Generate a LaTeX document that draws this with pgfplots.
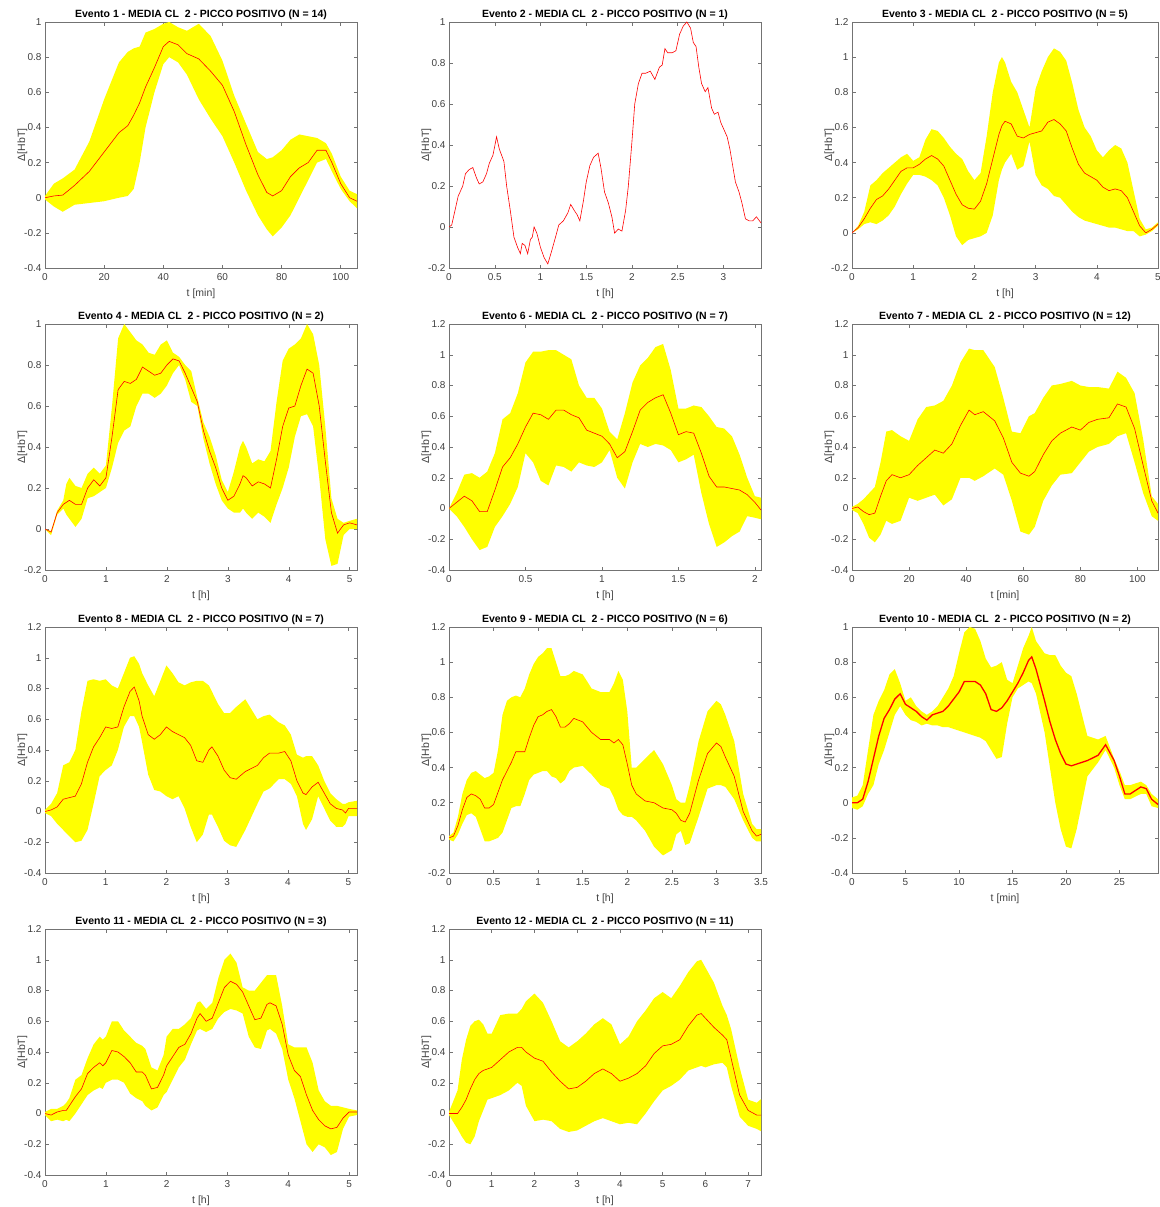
\documentclass[border=0pt]{standalone}
\usepackage{pgfplots}
\pgfplotsset{compat=1.18}
\usepackage{pgfplotstable}
\usepgfplotslibrary{fillbetween}
\usepackage{fontspec}
\setmainfont{Liberation Sans}
\definecolor{bandyellow}{RGB}{255,255,0}
\definecolor{meanred}{RGB}{255,0,0}

\pgfplotstableread[row sep=\\]{
t m lo hi\\
0 0 -0.01 0.01\\
3 0.01 -0.05 0.08\\
6 0.015 -0.08 0.11\\
10 0.07 -0.04 0.16\\
15 0.15 -0.03 0.32\\
20 0.26 -0.02 0.56\\
25 0.37 0.0 0.77\\
28 0.41 0.01 0.83\\
30 0.47 0.05 0.85\\
32 0.54 0.2 0.86\\
34 0.63 0.4 0.94\\
37 0.74 0.6 0.96\\
40 0.86 0.76 0.99\\
42 0.89 0.8 1.0\\
45 0.87 0.77 0.97\\
48 0.82 0.7 0.95\\
52 0.79 0.56 0.99\\
56 0.72 0.45 0.92\\
60 0.64 0.35 0.78\\
64 0.49 0.2 0.58\\
68 0.30 0.04 0.42\\
72 0.13 -0.1 0.26\\
75 0.03 -0.18 0.22\\
77 0.01 -0.22 0.23\\
80 0.04 -0.17 0.27\\
83 0.12 -0.1 0.33\\
86 0.17 0.0 0.36\\
89 0.2 0.1 0.35\\
92 0.27 0.2 0.34\\
95 0.27 0.22 0.31\\
97 0.2 0.15 0.25\\
100 0.08 0.05 0.12\\
103 0.0 -0.02 0.04\\
105.5 -0.02 -0.06 0.02\\
}\tA

\pgfplotstableread[row sep=\\]{
t m lo hi\\
0 0 0 0\\
0.1 0.03 0.02 0.04\\
0.2 0.08 0.05 0.12\\
0.3 0.14 0.06 0.27\\
0.4 0.19 0.05 0.3\\
0.5 0.21 0.07 0.34\\
0.6 0.25 0.1 0.37\\
0.7 0.3 0.15 0.4\\
0.8 0.35 0.22 0.43\\
0.9 0.37 0.28 0.45\\
1.0 0.37 0.33 0.41\\
1.1 0.39 0.33 0.43\\
1.2 0.42 0.32 0.53\\
1.3 0.44 0.3 0.59\\
1.4 0.42 0.27 0.58\\
1.5 0.38 0.2 0.54\\
1.6 0.3 0.1 0.49\\
1.7 0.22 -0.02 0.45\\
1.8 0.16 -0.07 0.42\\
1.9 0.14 -0.04 0.35\\
2.0 0.135 -0.03 0.3\\
2.1 0.18 -0.02 0.34\\
2.2 0.28 0.0 0.55\\
2.3 0.42 0.1 0.8\\
2.4 0.56 0.3 0.97\\
2.45 0.61 0.36 1.0\\
2.5 0.635 0.4 0.97\\
2.6 0.62 0.45 0.86\\
2.7 0.55 0.36 0.8\\
2.8 0.54 0.38 0.7\\
2.9 0.56 0.52 0.6\\
3.0 0.57 0.33 0.82\\
3.1 0.58 0.27 0.92\\
3.2 0.63 0.25 1.0\\
3.3 0.645 0.21 1.05\\
3.4 0.62 0.2 1.03\\
3.5 0.58 0.16 0.98\\
3.6 0.48 0.12 0.85\\
3.7 0.39 0.09 0.7\\
3.8 0.34 0.07 0.6\\
3.9 0.32 0.06 0.55\\
4.0 0.3 0.05 0.47\\
4.1 0.26 0.04 0.43\\
4.2 0.24 0.03 0.47\\
4.3 0.25 0.03 0.5\\
4.4 0.24 0.02 0.48\\
4.5 0.2 0.01 0.4\\
4.6 0.12 0.01 0.24\\
4.7 0.04 -0.02 0.08\\
4.8 0.0 -0.01 0.02\\
4.9 0.02 0.01 0.03\\
5.0 0.05 0.04 0.06\\
}\tC

\pgfplotstableread[row sep=\\]{
t m lo hi\\
0 0 0 0\\
0.1 -0.015 -0.03 -0.01\\
0.2 0.08 0.07 0.09\\
0.3 0.12 0.1 0.14\\
0.35 0.13 0.07 0.22\\
0.4 0.14 0.05 0.25\\
0.5 0.12 0.01 0.21\\
0.6 0.12 0.05 0.2\\
0.7 0.2 0.15 0.27\\
0.8 0.24 0.16 0.3\\
0.9 0.21 0.18 0.27\\
1.0 0.25 0.2 0.31\\
1.1 0.45 0.3 0.6\\
1.2 0.68 0.42 0.93\\
1.3 0.72 0.48 1.0\\
1.4 0.71 0.5 0.96\\
1.5 0.73 0.6 0.92\\
1.6 0.79 0.66 0.9\\
1.7 0.77 0.66 0.86\\
1.8 0.75 0.64 0.85\\
1.9 0.76 0.66 0.9\\
2.0 0.8 0.7 0.92\\
2.1 0.83 0.76 0.86\\
2.2 0.82 0.8 0.84\\
2.3 0.76 0.73 0.8\\
2.4 0.69 0.62 0.77\\
2.5 0.62 0.6 0.64\\
2.6 0.48 0.44 0.52\\
2.7 0.38 0.32 0.45\\
2.8 0.3 0.22 0.36\\
2.9 0.2 0.14 0.24\\
3.0 0.14 0.1 0.18\\
3.1 0.16 0.08 0.28\\
3.2 0.22 0.08 0.4\\
3.25 0.26 0.1 0.43\\
3.3 0.25 0.08 0.4\\
3.4 0.21 0.05 0.32\\
3.5 0.23 0.08 0.34\\
3.6 0.22 0.06 0.33\\
3.7 0.2 0.03 0.38\\
3.8 0.34 0.12 0.62\\
3.9 0.5 0.2 0.82\\
4.0 0.59 0.3 0.88\\
4.1 0.6 0.45 0.9\\
4.2 0.7 0.55 0.93\\
4.3 0.78 0.56 1.0\\
4.4 0.76 0.5 0.95\\
4.5 0.6 0.25 0.8\\
4.6 0.33 -0.05 0.5\\
4.7 0.08 -0.18 0.15\\
4.8 -0.02 -0.17 0.05\\
4.9 0.02 -0.03 0.03\\
5.0 0.03 0.0 0.04\\
5.12 0.02 0.0 0.05\\
}\tD

\pgfplotstableread[row sep=\\]{
t m lo hi\\
0 0 0 0\\
0.05 0.04 -0.05 0.1\\
0.1 0.08 -0.12 0.22\\
0.15 0.05 -0.2 0.23\\
0.2 -0.02 -0.27 0.2\\
0.25 -0.02 -0.25 0.24\\
0.3 0.12 -0.12 0.36\\
0.35 0.27 -0.05 0.58\\
0.4 0.33 0.03 0.62\\
0.45 0.42 0.14 0.75\\
0.5 0.53 0.36 0.95\\
0.55 0.62 0.3 1.02\\
0.6 0.61 0.18 1.02\\
0.65 0.58 0.15 1.03\\
0.7 0.64 0.28 1.03\\
0.75 0.64 0.27 1.0\\
0.8 0.61 0.24 0.97\\
0.85 0.59 0.3 0.8\\
0.9 0.51 0.28 0.72\\
0.95 0.49 0.27 0.72\\
1.0 0.47 0.3 0.65\\
1.05 0.42 0.38 0.5\\
1.1 0.33 0.2 0.45\\
1.15 0.37 0.13 0.62\\
1.2 0.5 0.3 0.82\\
1.25 0.64 0.42 0.93\\
1.3 0.69 0.4 0.98\\
1.35 0.72 0.42 1.05\\
1.4 0.74 0.41 1.07\\
1.45 0.62 0.38 0.9\\
1.5 0.48 0.3 0.65\\
1.55 0.5 0.32 0.65\\
1.6 0.49 0.35 0.67\\
1.65 0.36 0.1 0.66\\
1.7 0.21 -0.1 0.6\\
1.75 0.14 -0.25 0.53\\
1.8 0.14 -0.22 0.52\\
1.85 0.13 -0.18 0.47\\
1.9 0.12 -0.15 0.35\\
1.95 0.09 -0.05 0.2\\
2.0 0.04 -0.06 0.08\\
2.04 -0.01 -0.07 0.07\\
}\tF

\pgfplotstableread[row sep=\\]{
t m lo hi\\
0 0 -0.01 0.01\\
2 0.01 -0.03 0.03\\
4 -0.02 -0.1 0.06\\
6 -0.04 -0.19 0.1\\
8 -0.03 -0.22 0.14\\
10 0.08 -0.17 0.3\\
12 0.18 -0.08 0.5\\
14 0.22 -0.1 0.51\\
17 0.2 -0.08 0.47\\
20 0.22 0.07 0.44\\
23 0.28 0.05 0.58\\
26 0.33 0.07 0.66\\
29 0.38 0.09 0.67\\
32 0.36 0.02 0.7\\
35 0.42 0.06 0.8\\
38 0.54 0.2 0.95\\
41 0.64 0.2 1.04\\
43 0.61 0.18 1.03\\
46 0.63 0.21 1.03\\
50 0.57 0.26 0.92\\
53 0.46 0.22 0.72\\
56 0.3 0.05 0.5\\
59 0.23 -0.15 0.49\\
62 0.21 -0.17 0.6\\
64 0.24 -0.12 0.62\\
67 0.35 0.05 0.72\\
70 0.44 0.15 0.8\\
73 0.49 0.22 0.81\\
77 0.53 0.23 0.83\\
80 0.51 0.3 0.8\\
83 0.56 0.37 0.79\\
86 0.58 0.4 0.79\\
90 0.59 0.42 0.78\\
93 0.68 0.47 0.89\\
96 0.66 0.49 0.85\\
99 0.52 0.3 0.75\\
102 0.28 0.1 0.45\\
105 0.05 -0.05 0.08\\
107.2 -0.03 -0.08 0.03\\
}\tG

\pgfplotstableread[row sep=\\]{
t m lo hi\\
0 0 -0.01 0.01\\
0.1 0.01 -0.03 0.05\\
0.2 0.03 -0.08 0.12\\
0.3 0.08 -0.12 0.3\\
0.4 0.09 -0.16 0.32\\
0.5 0.1 -0.2 0.4\\
0.6 0.18 -0.19 0.65\\
0.7 0.32 -0.12 0.85\\
0.8 0.42 0.05 0.86\\
0.9 0.48 0.23 0.85\\
1.0 0.55 0.27 0.86\\
1.1 0.54 0.3 0.82\\
1.2 0.55 0.4 0.8\\
1.3 0.68 0.55 0.9\\
1.4 0.78 0.62 1.0\\
1.47 0.81 0.62 1.01\\
1.55 0.72 0.55 0.96\\
1.6 0.62 0.45 0.9\\
1.7 0.5 0.24 0.82\\
1.8 0.47 0.14 0.75\\
1.9 0.5 0.13 0.85\\
2.0 0.55 0.1 0.95\\
2.1 0.52 0.08 0.9\\
2.2 0.5 0.1 0.84\\
2.3 0.48 0.02 0.82\\
2.4 0.43 -0.1 0.84\\
2.5 0.33 -0.2 0.85\\
2.6 0.32 -0.15 0.85\\
2.7 0.4 -0.02 0.82\\
2.75 0.42 -0.02 0.78\\
2.85 0.36 -0.1 0.7\\
2.95 0.27 -0.19 0.64\\
3.05 0.22 -0.22 0.64\\
3.15 0.21 -0.23 0.68\\
3.3 0.26 -0.12 0.73\\
3.5 0.3 0.05 0.6\\
3.6 0.35 0.13 0.62\\
3.7 0.38 0.15 0.63\\
3.85 0.38 0.21 0.58\\
3.95 0.39 0.21 0.56\\
4.05 0.33 0.18 0.5\\
4.15 0.2 0.1 0.37\\
4.25 0.12 -0.08 0.35\\
4.3 0.11 -0.12 0.36\\
4.4 0.16 -0.05 0.36\\
4.5 0.19 0.1 0.3\\
4.6 0.12 0.02 0.2\\
4.7 0.05 -0.06 0.12\\
4.8 0.02 -0.1 0.08\\
4.9 0.01 -0.1 0.05\\
4.95 -0.01 -0.08 0.05\\
5.0 0.02 -0.03 0.06\\
5.14 0.02 -0.03 0.07\\
}\tH

\pgfplotstableread[row sep=\\]{
t m lo hi\\
0 0 -0.01 0.01\\
0.05 0.01 -0.02 0.03\\
0.1 0.07 0.02 0.12\\
0.15 0.16 0.08 0.25\\
0.2 0.23 0.13 0.33\\
0.25 0.25 0.14 0.37\\
0.3 0.24 0.12 0.38\\
0.35 0.22 0.05 0.36\\
0.4 0.17 -0.02 0.34\\
0.45 0.17 -0.02 0.35\\
0.5 0.19 -0.01 0.37\\
0.55 0.26 0.0 0.5\\
0.6 0.33 0.03 0.7\\
0.65 0.38 0.1 0.78\\
0.7 0.43 0.17 0.8\\
0.75 0.49 0.18 0.81\\
0.8 0.49 0.18 0.8\\
0.85 0.49 0.25 0.85\\
0.9 0.57 0.33 0.93\\
0.95 0.64 0.36 0.99\\
1.0 0.69 0.37 1.03\\
1.05 0.7 0.38 1.05\\
1.1 0.72 0.38 1.08\\
1.15 0.73 0.35 1.08\\
1.2 0.69 0.34 1.0\\
1.25 0.63 0.31 0.92\\
1.3 0.63 0.33 0.92\\
1.35 0.65 0.38 0.93\\
1.4 0.68 0.4 0.95\\
1.5 0.66 0.41 0.93\\
1.6 0.6 0.36 0.85\\
1.7 0.56 0.3 0.83\\
1.8 0.56 0.28 0.83\\
1.85 0.54 0.23 0.88\\
1.9 0.56 0.16 0.95\\
1.95 0.53 0.13 0.9\\
2.0 0.42 0.12 0.72\\
2.05 0.3 0.12 0.4\\
2.1 0.25 0.1 0.4\\
2.2 0.21 0.04 0.45\\
2.3 0.2 -0.05 0.5\\
2.4 0.17 -0.1 0.42\\
2.5 0.16 -0.07 0.3\\
2.55 0.14 0.02 0.22\\
2.6 0.1 0.04 0.2\\
2.65 0.09 -0.04 0.2\\
2.7 0.14 -0.03 0.3\\
2.8 0.33 0.12 0.55\\
2.9 0.48 0.28 0.72\\
3.0 0.54 0.3 0.78\\
3.05 0.52 0.3 0.76\\
3.1 0.46 0.29 0.7\\
3.2 0.35 0.22 0.55\\
3.3 0.15 0.1 0.25\\
3.4 0.04 0.0 0.08\\
3.45 0.01 -0.02 0.05\\
3.5 0.02 -0.02 0.05\\
}\tI

\pgfplotstableread[row sep=\\]{
t m lo hi\\
0 0 -0.03 0.03\\
0.5 0.0 -0.04 0.04\\
1 0.02 -0.02 0.1\\
1.5 0.12 0.05 0.3\\
2 0.25 0.1 0.5\\
2.5 0.38 0.22 0.58\\
3 0.48 0.3 0.64\\
3.5 0.53 0.4 0.73\\
4 0.59 0.5 0.76\\
4.5 0.62 0.55 0.68\\
5 0.56 0.5 0.58\\
5.5 0.54 0.47 0.6\\
6 0.52 0.46 0.55\\
6.5 0.49 0.44 0.52\\
7 0.47 0.45 0.5\\
7.5 0.5 0.44 0.52\\
8 0.51 0.44 0.55\\
8.5 0.52 0.43 0.6\\
9 0.55 0.43 0.65\\
9.5 0.59 0.42 0.72\\
10 0.63 0.41 0.85\\
10.5 0.69 0.4 0.97\\
11 0.69 0.39 1.0\\
11.5 0.69 0.38 0.99\\
12 0.67 0.37 0.92\\
12.5 0.62 0.35 0.82\\
13 0.53 0.3 0.77\\
13.5 0.52 0.25 0.78\\
14 0.54 0.26 0.8\\
14.5 0.58 0.45 0.7\\
15 0.63 0.6 0.68\\
15.5 0.68 0.65 0.78\\
16 0.74 0.67 0.88\\
16.5 0.81 0.69 0.95\\
16.8 0.83 0.68 1.0\\
17.2 0.76 0.62 0.92\\
18 0.58 0.4 0.85\\
18.5 0.46 0.2 0.84\\
19 0.36 0.0 0.84\\
19.5 0.28 -0.15 0.78\\
20 0.22 -0.25 0.74\\
20.5 0.21 -0.26 0.72\\
21 0.22 -0.15 0.62\\
22 0.24 0.15 0.38\\
23 0.27 0.23 0.36\\
23.7 0.33 0.3 0.38\\
24.5 0.24 0.2 0.25\\
25 0.15 0.1 0.18\\
25.5 0.05 0.02 0.1\\
26 0.05 0.02 0.1\\
27 0.09 0.05 0.12\\
27.5 0.08 0.05 0.1\\
28 0.02 -0.02 0.05\\
28.6 -0.01 -0.03 0.02\\
}\tJ

\pgfplotstableread[row sep=\\]{
t m lo hi\\
0 0 -0.01 0.01\\
0.1 -0.01 -0.05 0.03\\
0.2 0.01 -0.04 0.03\\
0.3 0.02 -0.05 0.05\\
0.35 0.02 -0.04 0.07\\
0.4 0.05 -0.05 0.1\\
0.5 0.11 0.0 0.22\\
0.6 0.16 0.06 0.25\\
0.7 0.26 0.12 0.36\\
0.8 0.3 0.15 0.45\\
0.9 0.33 0.17 0.5\\
0.95 0.31 0.16 0.48\\
1.0 0.33 0.2 0.5\\
1.1 0.41 0.22 0.6\\
1.2 0.4 0.22 0.6\\
1.3 0.37 0.2 0.54\\
1.4 0.33 0.13 0.5\\
1.5 0.27 0.1 0.46\\
1.6 0.27 0.08 0.44\\
1.65 0.25 0.05 0.42\\
1.75 0.16 0.02 0.3\\
1.85 0.17 0.04 0.28\\
1.95 0.25 0.12 0.38\\
2.0 0.31 0.14 0.5\\
2.1 0.37 0.22 0.55\\
2.2 0.43 0.3 0.55\\
2.3 0.45 0.35 0.58\\
2.4 0.52 0.45 0.62\\
2.5 0.62 0.54 0.72\\
2.55 0.65 0.55 0.73\\
2.65 0.6 0.53 0.68\\
2.75 0.62 0.55 0.72\\
2.85 0.72 0.62 0.88\\
2.95 0.82 0.66 1.0\\
3.05 0.86 0.68 1.04\\
3.15 0.84 0.67 0.98\\
3.25 0.79 0.65 0.82\\
3.35 0.7 0.5 0.8\\
3.45 0.61 0.43 0.8\\
3.55 0.62 0.42 0.85\\
3.65 0.71 0.54 0.9\\
3.7 0.72 0.55 0.9\\
3.8 0.7 0.52 0.9\\
3.9 0.58 0.42 0.7\\
4.0 0.38 0.22 0.45\\
4.1 0.28 0.1 0.43\\
4.2 0.24 -0.05 0.43\\
4.3 0.12 -0.2 0.43\\
4.4 0.02 -0.25 0.33\\
4.5 -0.04 -0.2 0.15\\
4.6 -0.08 -0.22 0.08\\
4.7 -0.1 -0.27 0.05\\
4.8 -0.09 -0.25 0.05\\
4.9 -0.03 -0.1 0.04\\
5.0 0.01 -0.02 0.03\\
5.13 0.01 -0.01 0.02\\
}\tK

\pgfplotstableread[row sep=\\]{
t m lo hi\\
0 0 -0.01 0.01\\
0.2 0.0 -0.1 0.15\\
0.3 0.04 -0.15 0.35\\
0.4 0.09 -0.19 0.48\\
0.5 0.16 -0.2 0.57\\
0.6 0.22 -0.15 0.6\\
0.7 0.26 -0.05 0.61\\
0.8 0.28 0.02 0.58\\
0.9 0.29 0.09 0.52\\
1.0 0.3 0.1 0.52\\
1.2 0.35 0.12 0.64\\
1.4 0.4 0.15 0.65\\
1.6 0.43 0.2 0.65\\
1.7 0.43 0.18 0.68\\
1.8 0.4 0.05 0.73\\
2.0 0.36 -0.05 0.78\\
2.2 0.34 -0.04 0.72\\
2.4 0.27 -0.05 0.6\\
2.6 0.21 -0.1 0.47\\
2.8 0.16 -0.12 0.43\\
3.0 0.17 -0.11 0.47\\
3.2 0.21 -0.08 0.52\\
3.4 0.26 -0.05 0.58\\
3.6 0.29 -0.03 0.62\\
3.8 0.26 -0.05 0.58\\
4.0 0.21 -0.07 0.45\\
4.2 0.23 -0.06 0.5\\
4.4 0.26 -0.07 0.6\\
4.6 0.31 0.0 0.67\\
4.8 0.39 0.08 0.75\\
5.0 0.44 0.15 0.79\\
5.2 0.45 0.18 0.75\\
5.4 0.48 0.22 0.83\\
5.6 0.57 0.28 0.92\\
5.8 0.64 0.3 0.99\\
5.9 0.65 0.31 1.0\\
6.0 0.62 0.3 0.95\\
6.2 0.56 0.32 0.85\\
6.4 0.51 0.33 0.7\\
6.5 0.48 0.3 0.64\\
6.6 0.36 0.18 0.55\\
6.8 0.12 -0.02 0.3\\
7.0 0.02 -0.08 0.09\\
7.2 -0.01 -0.1 0.07\\
7.33 -0.01 -0.12 0.1\\
}\tL

\pgfplotsset{
  panel/.style={
    scale only axis, width=312pt, height=246pt, anchor=north west,
    axis line style={black!55, line width=0.5pt},
    every tick/.style={black!55, line width=0.5pt},
    tick align=inside, major tick length=3.5pt,
    ticklabel style={font=\fontsize{10}{11}\selectfont, text=black!75},
    xticklabel style={yshift=-2pt},
    /pgf/number format/assume math mode=true,
    label style={font=\fontsize{10.5}{12}\selectfont, text=black!75},
    ylabel shift=-10pt, xlabel shift=1pt,
    title style={font=\bfseries\fontsize{10.5}{12}\selectfont, text=black, yshift=-7pt},
    ylabel={Δ[HbT]},
    xmin=0, clip=true,
  },
  ya/.style={ymin=-0.4, ymax=1, ytick={-0.4,-0.2,0,0.2,0.4,0.6,0.8,1}},
  yb/.style={ymin=-0.2, ymax=1, ytick={-0.2,0,0.2,0.4,0.6,0.8,1}},
  yc/.style={ymin=-0.2, ymax=1.2, ytick={-0.2,0,0.2,0.4,0.6,0.8,1,1.2}},
  yd/.style={ymin=-0.4, ymax=1.2, ytick={-0.4,-0.2,0,0.2,0.4,0.6,0.8,1,1.2}},
}

\newcommand{\band}[3][0.6pt]{%
  \addplot[draw=none, name path=hi#3] table[x=t,y=hi]{#2};
  \addplot[draw=none, name path=lo#3] table[x=t,y=lo]{#2};
  \addplot[fill=bandyellow, draw=none] fill between[of=hi#3 and lo#3];
  \addplot[meanred, line width=#1] table[x=t,y=m]{#2};
}

\begin{document}
\begin{tikzpicture}

% Row 1
\begin{axis}[panel, ya, at={(45pt,-22pt)}, xmax=105.5, xtick={0,20,40,60,80,100},
  xlabel={t [min]}, title={Evento 1 - MEDIA CL\ \ 2 - PICCO POSITIVO (N = 14)}]
\band{\tA}{a}
\end{axis}

\begin{axis}[panel, yb, at={(449pt,-22pt)}, xmax=3.41, xtick={0,0.5,1,1.5,2,2.5,3},
  xlabel={t [h]}, title={Evento 2 - MEDIA CL\ \ 2 - PICCO POSITIVO (N = 1)}]
\addplot[meanred, line width=0.6pt] coordinates {
(0,0) (0.03,0.01) (0.06,0.07) (0.1,0.15) (0.15,0.2) (0.18,0.26) (0.22,0.28) (0.26,0.29)
(0.3,0.24) (0.33,0.21) (0.37,0.22) (0.41,0.26) (0.44,0.31) (0.48,0.35) (0.52,0.44)
(0.55,0.38) (0.6,0.32) (0.63,0.2) (0.67,0.08) (0.71,-0.05) (0.75,-0.1) (0.78,-0.13)
(0.8,-0.08) (0.83,-0.09) (0.86,-0.13) (0.89,-0.06) (0.91,-0.05) (0.93,0.0) (0.96,-0.03)
(1.0,-0.1) (1.04,-0.15) (1.08,-0.18) (1.12,-0.12) (1.17,-0.04) (1.2,0.01) (1.25,0.03)
(1.3,0.07) (1.33,0.11) (1.37,0.08) (1.4,0.06) (1.43,0.03) (1.47,0.13) (1.5,0.22)
(1.54,0.3) (1.58,0.34) (1.63,0.36) (1.66,0.29) (1.7,0.17) (1.74,0.12) (1.78,0.05)
(1.81,-0.03) (1.85,-0.01) (1.89,-0.02) (1.93,0.08) (1.96,0.2) (2.0,0.42) (2.03,0.6)
(2.07,0.7) (2.11,0.75) (2.15,0.75) (2.2,0.76) (2.25,0.72) (2.3,0.78) (2.33,0.79)
(2.36,0.87) (2.39,0.85) (2.44,0.85) (2.48,0.86) (2.52,0.94) (2.56,0.98) (2.6,1.0)
(2.64,0.97) (2.67,0.9) (2.7,0.88) (2.73,0.78) (2.76,0.70) (2.8,0.66) (2.83,0.68)
(2.87,0.58) (2.9,0.55) (2.94,0.56) (2.97,0.51) (3.0,0.48) (3.04,0.44) (3.07,0.38)
(3.1,0.3) (3.13,0.22) (3.17,0.17) (3.2,0.12) (3.24,0.04) (3.28,0.03) (3.32,0.03)
(3.36,0.05) (3.41,0.02)};
\end{axis}

\begin{axis}[panel, yc, at={(852pt,-22pt)}, width=306pt, xmax=5, xtick={0,1,2,3,4,5},
  xlabel={t [h]}, title={Evento 3 - MEDIA CL\ \ 2 - PICCO POSITIVO (N = 5)}]
\band{\tC}{c}
\end{axis}

% Row 2
\begin{axis}[panel, yb, at={(45pt,-324pt)}, xmax=5.12, xtick={0,1,2,3,4,5},
  xlabel={t [h]}, title={Evento 4 - MEDIA CL\ \ 2 - PICCO POSITIVO (N = 2)}]
\band{\tD}{d}
\end{axis}

\begin{axis}[panel, yd, at={(449pt,-324pt)}, xmax=2.04, xtick={0,0.5,1,1.5,2},
  xlabel={t [h]}, title={Evento 6 - MEDIA CL\ \ 2 - PICCO POSITIVO (N = 7)}]
\band{\tF}{f}
\end{axis}

\begin{axis}[panel, yd, at={(852pt,-324pt)}, width=306pt, xmax=107.2, xtick={0,20,40,60,80,100},
  xlabel={t [min]}, title={Evento 7 - MEDIA CL\ \ 2 - PICCO POSITIVO (N = 12)}]
\band{\tG}{g}
\end{axis}

% Row 3
\begin{axis}[panel, yd, at={(45pt,-627pt)}, xmax=5.14, xtick={0,1,2,3,4,5},
  xlabel={t [h]}, title={Evento 8 - MEDIA CL\ \ 2 - PICCO POSITIVO (N = 7)}]
\band{\tH}{h}
\end{axis}

\begin{axis}[panel, yc, at={(449pt,-627pt)}, xmax=3.5, xtick={0,0.5,1,1.5,2,2.5,3,3.5},
  xlabel={t [h]}, title={Evento 9 - MEDIA CL\ \ 2 - PICCO POSITIVO (N = 6)}]
\band{\tI}{i}
\end{axis}

\begin{axis}[panel, ya, at={(852pt,-627pt)}, width=306pt, xmax=28.6, xtick={0,5,10,15,20,25},
  xlabel={t [min]}, title={Evento 10 - MEDIA CL\ \ 2 - PICCO POSITIVO (N = 2)}]
\band[1.3pt]{\tJ}{j}
\end{axis}

% Row 4
\begin{axis}[panel, yd, at={(45pt,-929pt)}, xmax=5.13, xtick={0,1,2,3,4,5},
  xlabel={t [h]}, title={Evento 11 - MEDIA CL\ \ 2 - PICCO POSITIVO (N = 3)}]
\band{\tK}{k}
\end{axis}

\begin{axis}[panel, yd, at={(449pt,-929pt)}, xmax=7.3, xtick={0,1,2,3,4,5,6,7},
  xlabel={t [h]}, title={Evento 12 - MEDIA CL\ \ 2 - PICCO POSITIVO (N = 11)}]
\band{\tL}{l}
\end{axis}

\pgfresetboundingbox
\path[use as bounding box] (0,0) rectangle (1159pt,-1207pt);
\end{tikzpicture}
\end{document}
